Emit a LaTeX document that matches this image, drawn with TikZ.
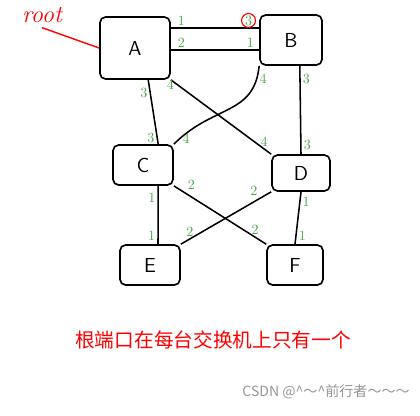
\documentclass[tikz,border=0pt]{standalone}
\usepackage{fontspec}
\newfontfamily\cjk{Noto Sans CJK SC}
\usetikzlibrary{positioning}
\definecolor{portgreen}{RGB}{76,166,76}
\definecolor{markgray}{RGB}{150,150,150}

\begin{document}
\begin{tikzpicture}[x=0.025cm,y=-0.025cm,
		swbox/.style={draw,line width=1.2pt,rounded corners=4pt,font=\sffamily\Large},
		link/.style={line width=1.1pt},
		port/.style={font=\normalsize,text=portgreen,inner sep=1.5pt}]
		\useasboundingbox (0,0) rectangle (420,415);
		
		% switches
		\node[swbox,minimum width=1.75cm,minimum height=1.55cm] (A) at (135,48) {A};
		\node[swbox,minimum width=1.55cm,minimum height=1.25cm] (B) at (291,40) {B};
		\node[swbox,minimum width=1.5cm,minimum height=1cm] (C) at (143,165) {C};
		\node[swbox,minimum width=1.45cm,minimum height=0.9cm] (D) at (301,173) {D};
		\node[swbox,minimum width=1.5cm,minimum height=1cm] (E) at (150,265) {E};
		\node[swbox,minimum width=1.4cm,minimum height=1cm] (F) at (295,265) {F};
		
		\node[text=red,font=\itshape\LARGE] (root) at (42,15) {root};
		\draw[red,line width=1pt] (root.south) -- (A.west);
		
		% links
		\draw[link] ([yshift=0.5cm]A.east) -- ([yshift=0.3cm]B.west)
		node[port,pos=0.12,above] {1}
		node[port,pos=0.88,above,circle,draw=red,thick,inner sep=0.5pt] {3};
		\draw[link] ([yshift=-0.05cm]A.east) -- ([yshift=-0.25cm]B.west)
		node[port,pos=0.12,above] {2}
		node[port,pos=0.9,above] {1};
		\draw[link] ([xshift=0.33cm]A.south) -- ([xshift=0.38cm]C.north)
		node[port,pos=0.2,left] {3}
		node[port,pos=0.9,left] {3};
		\draw[link] (A.south east) -- (D.north west)
		node[port,pos=0.06,left] {4}
		node[port,pos=0.93,above] {4};
		\draw[link] (B.south west) .. controls +(-5,50) and +(40,-40) .. (C.north east)
		node[port,pos=0.1,right] {4}
		node[port,pos=0.95,right] {4};
		\draw[link] ([xshift=0.22cm]B.south) -- (D.north)
		node[port,pos=0.15,right] {3}
		node[port,pos=0.9,right] {3};
		\draw[link] ([xshift=0.38cm]C.south) -- ([xshift=0.2cm]E.north)
		node[port,pos=0.2,left] {1}
		node[port,pos=0.85,left] {1};
		\draw[link] (C.south east) -- (F.north west)
		node[port,pos=0.12,above right] {2}
		node[port,pos=0.88,above] {2};
		\draw[link] (D.south west) -- (E.north east)
		node[port,pos=0.12,above left] {2}
		node[port,pos=0.9,above] {2};
		\draw[link] (D.south) -- (F.north)
		node[port,pos=0.2,right] {1}
		node[port,pos=0.85,right] {1};
		
		% notes
		\node[anchor=west,text=red,font=\cjk\fontsize{14}{16}\selectfont,inner sep=0pt] (note) at (75,340) {根端口在每台交换机上只有一个};
		\node[anchor=east,text=markgray,font=\cjk\fontsize{10}{12}\selectfont,inner sep=0pt] (mark) at (410,392) {CSDN @\^{}～\^{}前行者～～～};
\end{tikzpicture}
\end{document}
